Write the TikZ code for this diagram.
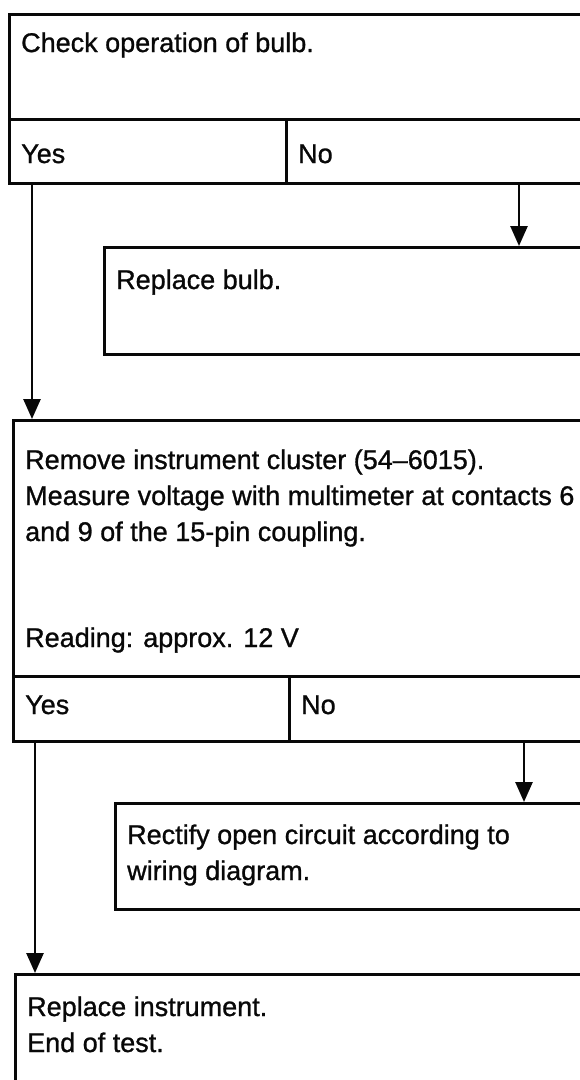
\documentclass[tikz,border=0pt]{standalone}
\usepackage{fontspec}
\setmainfont[FakeBold=1]{Liberation Sans}
\usetikzlibrary{arrows.meta,positioning,calc}
\definecolor{FlowInk}{RGB}{8,8,8}
\newcommand\flowfont{\fontsize{27}{36}\selectfont}
\tikzset{
  flow/box/.style={
    rectangle,
    draw=FlowInk,
    line width=3pt,
    anchor=north west,
    inner sep=0pt,
    minimum width=700pt
  },
  flow/cell/.style={
    flow/box,
    minimum height=64pt
  },
  flow/label/.style={
    anchor=base west,
    inner sep=0pt,
    align=left,
    text=FlowInk,
    font=\flowfont
  },
  flow/arrow/.style={-{Triangle[length=20pt,width=17pt]}, line width=2.6pt, draw=FlowInk}
}
\begin{document}
\begin{tikzpicture}[x=1pt,y=-1pt]
  \useasboundingbox (0,0) rectangle (579,1080);
  % bulb check
  \node[flow/box, minimum height=105pt] (q1) at (8,13) {};
  \node[flow/cell, minimum width=277pt] (q1yes) at (8,118) {};
  \node[flow/cell] (q1no) at (285,118) {};
  \node[flow/label] (q1text) at (21,52) {Check operation of bulb.};
  \node[flow/label] at (21,163) {Yes};
  \node[flow/label] at (298,163) {No};
  % replace bulb
  \node[flow/box, minimum height=107pt] (q2) at (103,246) {};
  \node[flow/label] (q2text) at (116,289) {Replace bulb.};
  % voltage check (base = last line)
  \node[flow/box, minimum height=256pt] (q3) at (12,419) {};
  \node[flow/cell, minimum width=276pt, minimum height=65pt] (q3yes) at (12,675) {};
  \node[flow/cell, minimum height=65pt] (q3no) at (288,675) {};
  \node[flow/label] (q3text) at (25,541) {Remove instrument cluster (54--6015).\\Measure voltage with multimeter at contacts 6\\and 9 of the 15-pin coupling.};
  \node[flow/label] (q3read) at (25,647) {Reading: approx. 12 V};
  \node[flow/label] at (25,714) {Yes};
  \node[flow/label] at (301,714) {No};
  % open circuit
  \node[flow/box, minimum height=106pt] (q4) at (114,802) {};
  \node[flow/label] (q4text) at (127,880) {Rectify open circuit according to\\wiring diagram.};
  % end
  \node[flow/box, minimum height=140pt] (q5) at (14,973) {};
  \node[flow/label] (q5text) at (27,1052) {Replace instrument.\\End of test.};

  \coordinate (y1) at ([xshift=24pt]q1yes.south west);
  \coordinate (n1) at ([xshift=234pt]q1no.south west);
  \coordinate (y2) at ([xshift=23pt]q3yes.south west);
  \coordinate (n2) at ([xshift=236pt]q3no.south west);
  \draw[flow/arrow] (y1) -- (y1 |- q3.north);
  \draw[flow/arrow] (n1) -- (n1 |- q2.north);
  \draw[flow/arrow] (y2) -- (y2 |- q5.north);
  \draw[flow/arrow] (n2) -- (n2 |- q4.north);
\end{tikzpicture}
\end{document}
